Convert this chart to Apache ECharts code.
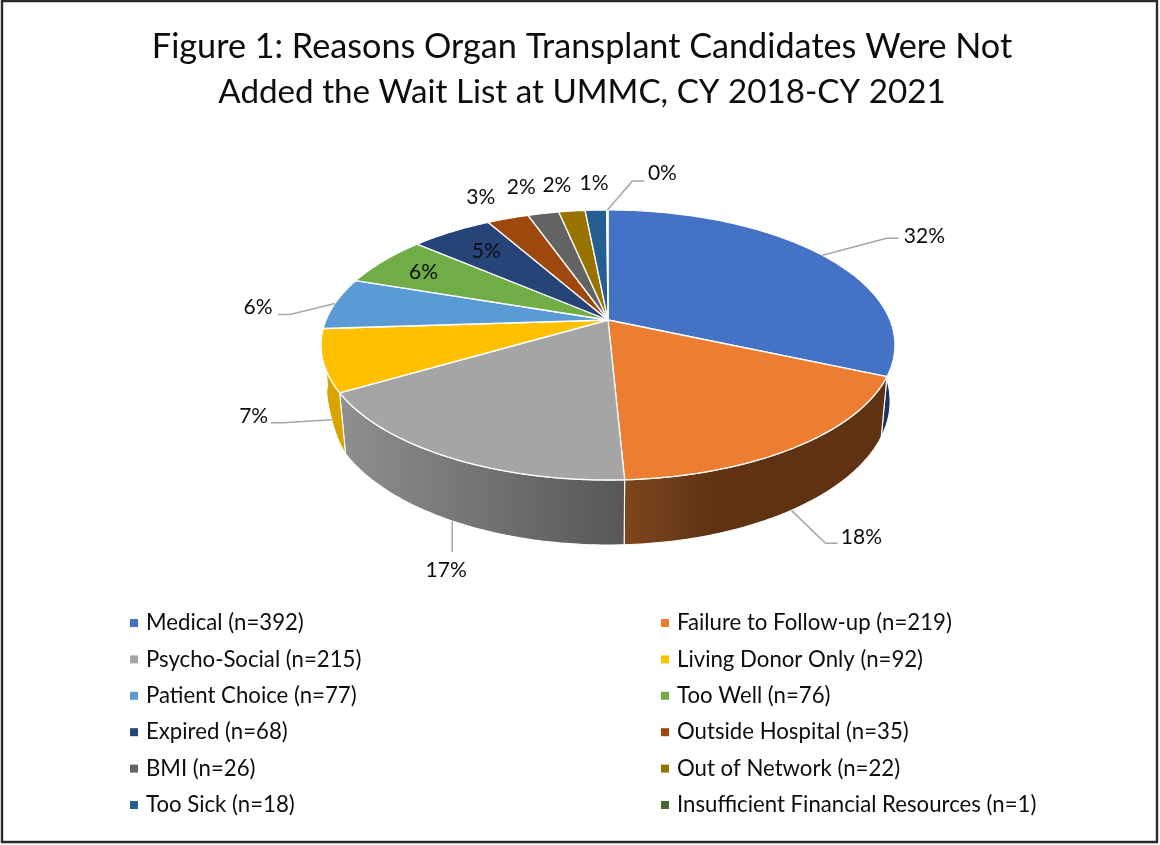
<!DOCTYPE html>
<html><head><meta charset="utf-8">
<style>html,body{margin:0;padding:0;background:#fff}#c{width:1160px;height:845px}</style>
<script src="https://cdn.jsdelivr.net/npm/echarts@6/dist/echarts.min.js"></script>
</head><body><div id="c"></div>
<script>
// ---- data ----
const categories = ['Medical','Failure to Follow-up','Psycho-Social','Living Donor Only','Patient Choice','Too Well','Expired','Outside Hospital','BMI','Out of Network','Too Sick','Insufficient Financial Resources'];
const counts = [392,219,215,92,77,76,68,35,26,22,18,1];
// ---- styles ----
const colors = ['#4472C4','#ED7D31','#A5A5A5','#FFC000','#5B9BD5','#70AD47','#264478','#9E480E','#636363','#997300','#255E91','#43682B'];
const wallStops = [
  [[0,'#1c3461'],[1,'#1c3461']],
  [[0,'#7e471c'],[0.35,'#5f3214'],[1,'#5f3214']],
  [[0,'#8f8f8f'],[1,'#575757']],
  [[0,'#d9a400'],[1,'#d9a400']],
  null,null,null,null,null,null,null,null];
// Label placement relative to each slice's anchor: [dx, dy, elbowDx, elbowDy, endDx, endDy]
const labelOffsets = [
  [102,-19, 64,-17, 76,-17],
  [70,27, 34,33, 46,33],
  [-6,49, 0,31, 0,31],
  [-78,-4, -49,3, -61,3],
  [-77,4, -45,11, -57,11],
  [40,11],
  [35,19],
  [-27,-21],
  [-22,-26],
  [-15,-26],
  [-2,-27],
  [55,-37, 25,-29, 37,-29]
];
const onWall = [false,true,true,true,false,false,false,false,false,false,false,false];

// ---- projection of the tilted disc ----
const APEX_X = 608, APEX_Y = 320, RX = 282, K = -0.185, A = 130.4;
const total = counts.reduce((a,b)=>a+b,0);
function topPoint(t){
  const s = Math.sin(t), y = -Math.cos(t), d = 1 + K*y;
  return [APEX_X + RX*s/d, APEX_Y + A*y/d, y];
}
function bottomPoint(t){
  const p = topPoint(t), ay = Math.abs(p[2]);
  let scale = 0.986 - 0.016*ay;
  if (p[0] < APEX_X && ay > 0.1 && ay < 0.5) scale -= 0.012*Math.sin(Math.PI*(ay-0.1)/0.4);
  return [APEX_X + (p[0]-APEX_X)*scale, p[1] + 57 + 8*p[2]];
}
function arc(a,b,fn){
  const n = Math.max(2, Math.ceil(Math.abs(b-a)/(Math.PI/180)));
  const out=[]; for(let i=0;i<=n;i++) out.push(fn(a+(b-a)*i/n).slice(0,2));
  return out;
}
const WALL_FROM = 80*Math.PI/180, WALL_TO = 267*Math.PI/180;
const FONT = 'Lato, Carlito, Calibri, sans-serif';

function renderSlice(params, api){
  const i = api.value(0), before = api.value(1), v = api.value(2);
  const t0 = before/total*2*Math.PI, t1 = (before+v)/total*2*Math.PI, mid=(t0+t1)/2;
  const children = [];
  const from = Math.max(t0,WALL_FROM), to = Math.min(t1,WALL_TO);
  if (wallStops[i] && to>from){
    const pts = arc(from,to,topPoint).concat(arc(to,from,bottomPoint));
    children.push({type:'polygon', z2:1, shape:{points:pts}, style:{
      fill:{type:'linear',x:0,y:0,x2:1,y2:0,colorStops:wallStops[i].map(s=>({offset:s[0],color:s[1]}))},
      stroke:'#fff', lineWidth:1.1, lineJoin:'round'}});
  }
  const pts = [[APEX_X,APEX_Y]].concat(arc(t0,t1,topPoint));
  children.push({type:'polygon', z2:10, shape:{points:pts}, style:{fill:colors[i], stroke:'#fff', lineWidth:1.3, lineJoin:'round'}});
  const anchor = onWall[i] ? bottomPoint(mid) : topPoint(mid);
  const o = labelOffsets[i];
  if (o.length>2){
    children.push({type:'polyline', z2:20, shape:{points:[[anchor[0],anchor[1]],[anchor[0]+o[2],anchor[1]+o[3]],[anchor[0]+o[4],anchor[1]+o[5]]]},
      style:{fill:'none',stroke:'#a6a6a6',lineWidth:1.5}});
  }
  children.push({type:'text', z2:21, style:{text:Math.round(v/total*100)+'%', x:anchor[0]+o[0], y:anchor[1]+o[1], align:'center', verticalAlign:'middle',
    fontSize:21, fontFamily:FONT, fill:'#0d0d0d'}});
  return {type:'group', children};
}

let cum = 0;
const names = categories.map((c,i)=>c+' (n='+counts[i]+')');
const series = categories.map((c,i)=>{
  const s = {type:'custom', name:names[i], coordinateSystem:'none', silent:true, animation:false,
    itemStyle:{color:colors[i]}, renderItem:renderSlice, data:[[i,cum,counts[i]]]};
  cum += counts[i];
  return s;
});
const legendBase = {orient:'vertical', top:612, padding:0, icon:'rect', itemWidth:8, itemHeight:8, itemGap:14.4, selectedMode:false,
  textStyle:{fontSize:22.2, fontFamily:FONT, color:'#0d0d0d', padding:[0,0,0,3]}};

const chart = echarts.init(document.getElementById('c'), null, {renderer:'canvas'});
chart.setOption({
  backgroundColor:'#fff', animation:false,
  title:{text:'{a|Figure 1: Reasons Organ Transplant Candidates Were Not}\n{b|Added the Wait List at UMMC, CY 2018-CY 2021}',
    left:577, top:19, textAlign:'center', textVerticalAlign:'top',
    textStyle:{fontWeight:'normal', rich:{
      a:{fontSize:34.2, fontWeight:'normal', fontFamily:FONT, color:'#0d0d0d', lineHeight:45.5},
      b:{fontSize:33.2, fontWeight:'normal', fontFamily:FONT, color:'#0d0d0d', lineHeight:45.5}}}},
  legend:[
    Object.assign({left:130, data:names.filter((_,i)=>i%2===0)},legendBase),
    Object.assign({left:661, data:names.filter((_,i)=>i%2===1)},legendBase)
  ],
  graphic:[{type:'rect', silent:true, z:100, shape:{x:2,y:1,width:1155,height:841}, style:{fill:'none',stroke:'#2b2b2b',lineWidth:2.4}}],
  series
});
</script></body></html>
